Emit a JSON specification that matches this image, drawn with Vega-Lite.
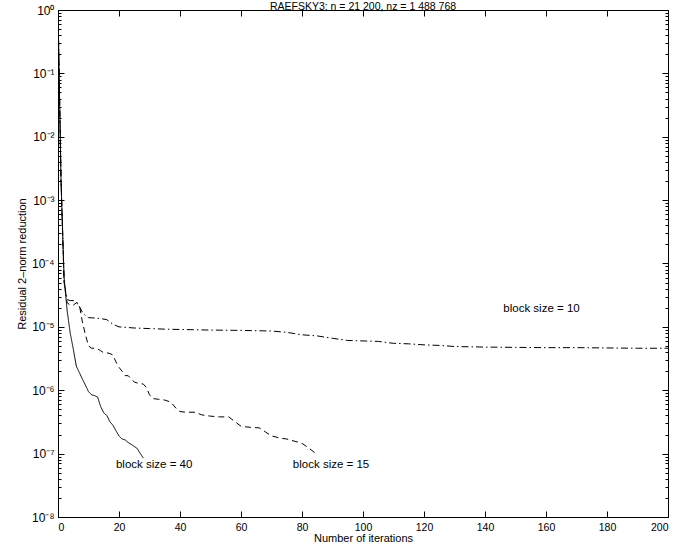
{
  "$schema": "https://vega.github.io/schema/vega-lite/v6.json",
  "autosize": "none",
  "width": 610,
  "height": 507,
  "padding": {"left": 58, "top": 10, "right": 7, "bottom": 27},
  "background": "white",
  "config": {
    "font": "Liberation Sans",
    "view": {"stroke": "black", "strokeWidth": 1},
    "axis": {"labelFont": "Liberation Sans", "titleFont": "Liberation Sans", "labelFontSize": 11, "titleFontSize": 11, "titleFontWeight": "normal", "labelColor": "black", "titleColor": "black", "domainColor": "black", "tickColor": "black", "tickWidth": 1, "grid": false}
  },
  "title": {"text": "RAEFSKY3: n = 21 200, nz = 1 488 768", "fontSize": 10.5, "fontWeight": "normal", "font": "Liberation Sans", "offset": 1, "dy": 19, "color": "black", "baseline": "bottom"},
  "datasets": {
    "curves": [
      {"iter": 0, "res": 1, "series": "40"},
      {"iter": 1, "res": 0.002, "series": "40"},
      {"iter": 2, "res": 6e-5, "series": "40"},
      {"iter": 3, "res": 1.8e-5, "series": "40"},
      {"iter": 4, "res": 8e-6, "series": "40"},
      {"iter": 5, "res": 4.5e-6, "series": "40"},
      {"iter": 6, "res": 2.4e-6, "series": "40"},
      {"iter": 7, "res": 1.9e-6, "series": "40"},
      {"iter": 8, "res": 1.5e-6, "series": "40"},
      {"iter": 9, "res": 1.2e-6, "series": "40"},
      {"iter": 10, "res": 9.5e-7, "series": "40"},
      {"iter": 11, "res": 8.5e-7, "series": "40"},
      {"iter": 12, "res": 8.2e-7, "series": "40"},
      {"iter": 13, "res": 7.8e-7, "series": "40"},
      {"iter": 14, "res": 5.5e-7, "series": "40"},
      {"iter": 15, "res": 4.4e-7, "series": "40"},
      {"iter": 16, "res": 4e-7, "series": "40"},
      {"iter": 17, "res": 3.2e-7, "series": "40"},
      {"iter": 18, "res": 2.8e-7, "series": "40"},
      {"iter": 19, "res": 2.3e-7, "series": "40"},
      {"iter": 20, "res": 1.9e-7, "series": "40"},
      {"iter": 21, "res": 1.7e-7, "series": "40"},
      {"iter": 22, "res": 1.65e-7, "series": "40"},
      {"iter": 23, "res": 1.5e-7, "series": "40"},
      {"iter": 24, "res": 1.4e-7, "series": "40"},
      {"iter": 25, "res": 1.3e-7, "series": "40"},
      {"iter": 26, "res": 1.2e-7, "series": "40"},
      {"iter": 27, "res": 1e-7, "series": "40"},
      {"iter": 28, "res": 8.5e-8, "series": "40"},

      {"iter": 0, "res": 1, "series": "15"},
      {"iter": 1, "res": 0.002, "series": "15"},
      {"iter": 2, "res": 5e-5, "series": "15"},
      {"iter": 3, "res": 2.4e-5, "series": "15"},
      {"iter": 4, "res": 2.2e-5, "series": "15"},
      {"iter": 5, "res": 2.2e-5, "series": "15"},
      {"iter": 6, "res": 2.4e-5, "series": "15"},
      {"iter": 7, "res": 2.2e-5, "series": "15"},
      {"iter": 8, "res": 1.2e-5, "series": "15"},
      {"iter": 9, "res": 7.5e-6, "series": "15"},
      {"iter": 10, "res": 5e-6, "series": "15"},
      {"iter": 11, "res": 4.6e-6, "series": "15"},
      {"iter": 12, "res": 4.6e-6, "series": "15"},
      {"iter": 13, "res": 4.5e-6, "series": "15"},
      {"iter": 14, "res": 4.2e-6, "series": "15"},
      {"iter": 15, "res": 3.9e-6, "series": "15"},
      {"iter": 16, "res": 3.9e-6, "series": "15"},
      {"iter": 17, "res": 3.8e-6, "series": "15"},
      {"iter": 18, "res": 3.6e-6, "series": "15"},
      {"iter": 19, "res": 2.8e-6, "series": "15"},
      {"iter": 20, "res": 2.3e-6, "series": "15"},
      {"iter": 21, "res": 2e-6, "series": "15"},
      {"iter": 22, "res": 1.7e-6, "series": "15"},
      {"iter": 23, "res": 1.7e-6, "series": "15"},
      {"iter": 24, "res": 1.5e-6, "series": "15"},
      {"iter": 25, "res": 1.35e-6, "series": "15"},
      {"iter": 26, "res": 1.3e-6, "series": "15"},
      {"iter": 28, "res": 1.25e-6, "series": "15"},
      {"iter": 29, "res": 1.1e-6, "series": "15"},
      {"iter": 30, "res": 8.5e-7, "series": "15"},
      {"iter": 31, "res": 7.4e-7, "series": "15"},
      {"iter": 33, "res": 7.2e-7, "series": "15"},
      {"iter": 35, "res": 7e-7, "series": "15"},
      {"iter": 37, "res": 6.5e-7, "series": "15"},
      {"iter": 39, "res": 5e-7, "series": "15"},
      {"iter": 40, "res": 4.6e-7, "series": "15"},
      {"iter": 42, "res": 4.5e-7, "series": "15"},
      {"iter": 45, "res": 4.5e-7, "series": "15"},
      {"iter": 47, "res": 4.1e-7, "series": "15"},
      {"iter": 50, "res": 3.9e-7, "series": "15"},
      {"iter": 53, "res": 3.8e-7, "series": "15"},
      {"iter": 56, "res": 3.8e-7, "series": "15"},
      {"iter": 58, "res": 3.2e-7, "series": "15"},
      {"iter": 60, "res": 2.7e-7, "series": "15"},
      {"iter": 63, "res": 2.6e-7, "series": "15"},
      {"iter": 66, "res": 2.55e-7, "series": "15"},
      {"iter": 68, "res": 2.2e-7, "series": "15"},
      {"iter": 70, "res": 1.9e-7, "series": "15"},
      {"iter": 73, "res": 1.75e-7, "series": "15"},
      {"iter": 75, "res": 1.7e-7, "series": "15"},
      {"iter": 78, "res": 1.55e-7, "series": "15"},
      {"iter": 80, "res": 1.45e-7, "series": "15"},
      {"iter": 82, "res": 1.25e-7, "series": "15"},
      {"iter": 84, "res": 1.05e-7, "series": "15"},
      {"iter": 85, "res": 1e-7, "series": "15"},

      {"iter": 0, "res": 1, "series": "10"},
      {"iter": 1, "res": 0.002, "series": "10"},
      {"iter": 2, "res": 5e-5, "series": "10"},
      {"iter": 3, "res": 2.7e-5, "series": "10"},
      {"iter": 4, "res": 2.6e-5, "series": "10"},
      {"iter": 5, "res": 2.6e-5, "series": "10"},
      {"iter": 6, "res": 2.5e-5, "series": "10"},
      {"iter": 7, "res": 2.1e-5, "series": "10"},
      {"iter": 8, "res": 1.7e-5, "series": "10"},
      {"iter": 9, "res": 1.5e-5, "series": "10"},
      {"iter": 10, "res": 1.4e-5, "series": "10"},
      {"iter": 12, "res": 1.38e-5, "series": "10"},
      {"iter": 14, "res": 1.35e-5, "series": "10"},
      {"iter": 16, "res": 1.3e-5, "series": "10"},
      {"iter": 18, "res": 1.1e-5, "series": "10"},
      {"iter": 20, "res": 1e-5, "series": "10"},
      {"iter": 25, "res": 9.6e-6, "series": "10"},
      {"iter": 30, "res": 9.4e-6, "series": "10"},
      {"iter": 35, "res": 9.2e-6, "series": "10"},
      {"iter": 40, "res": 9.1e-6, "series": "10"},
      {"iter": 50, "res": 8.9e-6, "series": "10"},
      {"iter": 60, "res": 8.8e-6, "series": "10"},
      {"iter": 70, "res": 8.6e-6, "series": "10"},
      {"iter": 75, "res": 8.2e-6, "series": "10"},
      {"iter": 80, "res": 7.5e-6, "series": "10"},
      {"iter": 85, "res": 7.2e-6, "series": "10"},
      {"iter": 90, "res": 6.6e-6, "series": "10"},
      {"iter": 95, "res": 6.1e-6, "series": "10"},
      {"iter": 100, "res": 6e-6, "series": "10"},
      {"iter": 105, "res": 5.9e-6, "series": "10"},
      {"iter": 110, "res": 5.5e-6, "series": "10"},
      {"iter": 115, "res": 5.4e-6, "series": "10"},
      {"iter": 120, "res": 5.2e-6, "series": "10"},
      {"iter": 125, "res": 5.1e-6, "series": "10"},
      {"iter": 130, "res": 4.9e-6, "series": "10"},
      {"iter": 140, "res": 4.8e-6, "series": "10"},
      {"iter": 150, "res": 4.75e-6, "series": "10"},
      {"iter": 160, "res": 4.7e-6, "series": "10"},
      {"iter": 170, "res": 4.7e-6, "series": "10"},
      {"iter": 180, "res": 4.65e-6, "series": "10"},
      {"iter": 190, "res": 4.6e-6, "series": "10"},
      {"iter": 200, "res": 4.6e-6, "series": "10"}
    ],
    "labels": [
      {"iter": 146, "res": 1.9e-5, "text": "block size = 10"},
      {"iter": 19, "res": 6.5e-8, "text": "block size = 40"},
      {"iter": 77, "res": 6.5e-8, "text": "block size = 15"}
    ]
  },
  "resolve": {"scale": {"x": "shared", "y": "shared"}, "axis": {"x": "independent", "y": "independent"}},
  "layer": [
    {
      "data": {"name": "curves"},
      "mark": {"type": "line", "stroke": "black", "strokeWidth": 1, "clip": true},
      "encoding": {
        "x": {"field": "iter", "type": "quantitative", "scale": {"domain": [0, 200], "nice": false, "zero": false},
          "axis": {"orient": "bottom", "title": "Number of iterations", "values": [0,20,40,60,80,100,120,140,160,180,200], "format": "d", "tickSize": -6, "labelPadding": 11, "labelFontSize": 10.5, "titlePadding": 0, "domain": true}},
        "y": {"field": "res", "type": "quantitative", "scale": {"type": "log", "domain": [1e-8, 1], "nice": false},
          "axis": {"orient": "left", "title": "Residual 2–norm reduction",
            "values": [1e-8,2e-8,3e-8,4e-8,5e-8,6e-8,7e-8,8e-8,9e-8,1e-7,2e-7,3e-7,4e-7,5e-7,6e-7,7e-7,8e-7,9e-7,1e-6,2e-6,3e-6,4e-6,5e-6,6e-6,7e-6,8e-6,9e-6,1e-5,2e-5,3e-5,4e-5,5e-5,6e-5,7e-5,8e-5,9e-5,1e-4,2e-4,3e-4,4e-4,5e-4,6e-4,7e-4,8e-4,9e-4,1e-3,2e-3,3e-3,4e-3,5e-3,6e-3,7e-3,8e-3,9e-3,1e-2,2e-2,3e-2,4e-2,5e-2,6e-2,7e-2,8e-2,9e-2,1e-1,2e-1,3e-1,4e-1,5e-1,6e-1,7e-1,8e-1,9e-1,1],
            "labelExpr": "abs(log(datum.value)/LN10 - round(log(datum.value)/LN10)) < 1e-6 ? '10' + (round(log(datum.value)/LN10) < 0 ? '⁻' : '') + ['⁰','¹','²','³','⁴','⁵','⁶','⁷','⁸','⁹'][abs(round(log(datum.value)/LN10))] : ''",
            "tickSize": {"condition": {"test": "abs(log(datum.value)/LN10 - round(log(datum.value)/LN10)) < 1e-6", "value": -6}, "value": -3},
            "labelPadding": 10, "labelFontSize": 12, "titlePadding": 4, "labelOverlap": false}},
        "strokeDash": {"field": "series", "type": "nominal", "legend": null,
          "scale": {"domain": ["40", "15", "10"], "range": [[1, 0], [6, 4], [7, 3, 1.5, 3]]}},
        "detail": {"field": "series"}
      }
    },
    {
      "data": {"name": "labels"},
      "mark": {"type": "text", "align": "left", "baseline": "middle", "fontSize": 11.5, "font": "Liberation Sans", "color": "black"},
      "encoding": {
        "x": {"field": "iter", "type": "quantitative", "axis": {"orient": "top", "title": null, "labels": false, "values": [0,20,40,60,80,100,120,140,160,180,200], "tickSize": -6, "domain": true, "minExtent": 0, "maxExtent": 0, "offset": 0}},
        "y": {"field": "res", "type": "quantitative",
          "axis": {"orient": "right", "title": null, "labels": false,
            "values": [1e-8,2e-8,3e-8,4e-8,5e-8,6e-8,7e-8,8e-8,9e-8,1e-7,2e-7,3e-7,4e-7,5e-7,6e-7,7e-7,8e-7,9e-7,1e-6,2e-6,3e-6,4e-6,5e-6,6e-6,7e-6,8e-6,9e-6,1e-5,2e-5,3e-5,4e-5,5e-5,6e-5,7e-5,8e-5,9e-5,1e-4,2e-4,3e-4,4e-4,5e-4,6e-4,7e-4,8e-4,9e-4,1e-3,2e-3,3e-3,4e-3,5e-3,6e-3,7e-3,8e-3,9e-3,1e-2,2e-2,3e-2,4e-2,5e-2,6e-2,7e-2,8e-2,9e-2,1e-1,2e-1,3e-1,4e-1,5e-1,6e-1,7e-1,8e-1,9e-1,1],
            "tickSize": {"condition": {"test": "abs(log(datum.value)/LN10 - round(log(datum.value)/LN10)) < 1e-6", "value": -6}, "value": -3}}},
        "text": {"field": "text", "type": "nominal"}
      }
    }
  ]
}
